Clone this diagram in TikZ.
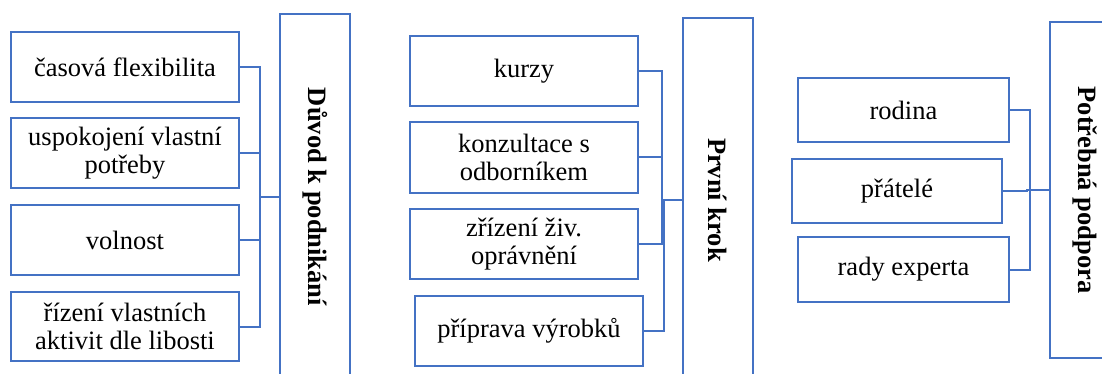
\documentclass[tikz,border=0pt]{standalone}
\usepackage{fontspec}
\setmainfont{Liberation Serif}
\newfontfamily\serf{Liberation Serif}
\definecolor{boxblue}{HTML}{4472C4}
\newcommand{\lbl}[1]{{\serf\fontsize{26.5}{28}\selectfont #1}}
\newcommand{\twolbl}[2]{\parbox{220pt}{\serf\fontsize{26.5}{28}\selectfont\centering #1\\#2\par}}
\newcommand{\rlbl}[1]{\rotatebox{-90}{\serf\bfseries\fontsize{26.5}{28}\selectfont #1}}
\begin{document}
\begin{tikzpicture}[x=1pt,y=-1pt,
  leafbox/.style={draw=boxblue,line width=2pt,rectangle,inner sep=0pt},
  rootbox/.style={draw=boxblue,line width=2pt,rectangle,inner sep=0pt},
  conn/.style={draw=boxblue,line width=2pt}]
\clip (0,0) rectangle (1102,374);
\fill[white] (0,0) rectangle (1102,374);
% group 1
\node[leafbox,minimum width=228pt,minimum height=70pt] (a1) at (125,67) {\lbl{časová flexibilita}};
\node[leafbox,minimum width=228pt,minimum height=70pt] (a2) at (125,153) {\twolbl{uspokojení vlastní}{potřeby}};
\node[leafbox,minimum width=228pt,minimum height=70pt] (a3) at (125,240) {\lbl{volnost}};
\node[leafbox,minimum width=228pt,minimum height=69pt] (a4) at (125,326.5) {\twolbl{řízení vlastních}{aktivit dle libosti}};
\node[rootbox,minimum width=70pt,minimum height=366pt] (pa) at (315,197) {\rlbl{Důvod k podnikání}};
\foreach \i in {1,...,4} \draw[conn] (a\i.east) -- ++(20,0) |- (pa.west);
% group 2
\node[leafbox,minimum width=228pt,minimum height=70pt] (b1) at (524,71) {\lbl{kurzy}};
\node[leafbox,minimum width=228pt,minimum height=71pt] (b2) at (524,157.5) {\twolbl{konzultace s}{odborníkem}};
\node[leafbox,minimum width=228pt,minimum height=70pt] (b3) at (524,244) {\twolbl{zřízení živ.}{oprávnění}};
\node[leafbox,minimum width=228pt,minimum height=70pt] (b4) at (529,331) {\lbl{příprava výrobků}};
\node[rootbox,minimum width=70pt,minimum height=364pt] (pb) at (718,200) {\rlbl{První krok}};
\foreach \i in {1,2,3} \draw[conn] (b\i.east) -- ++(23,0) |- (pb.west);
\draw[conn] (b4.east) -- ++(20,0) |- (pb.west);
% group 3
\node[leafbox,minimum width=211pt,minimum height=64pt] (c1) at (903.5,110) {\lbl{rodina}};
\node[leafbox,minimum width=210pt,minimum height=64pt] (c2) at (897,191) {\lbl{přátelé}};
\node[leafbox,minimum width=211pt,minimum height=65pt] (c3) at (903.5,269.5) {\lbl{rady experta}};
\node[rootbox,minimum width=70pt,minimum height=336pt] (pc) at (1085,190) {\rlbl{Potřebná podpora}};
\draw[conn] (c1.east) -- ++(20,0) |- (pc.west);
\draw[conn] (c2.east) -- ++(24,0) |- (pc.west);
\draw[conn] (c3.east) -- ++(20,0) |- (pc.west);
\end{tikzpicture}
\end{document}
